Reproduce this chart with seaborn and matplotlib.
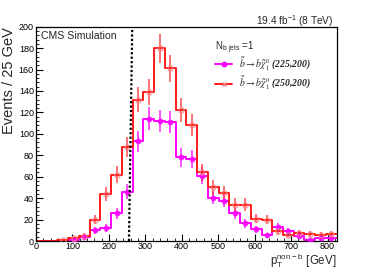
import numpy as np
import pandas as pd
import matplotlib
matplotlib.use("Agg")
import matplotlib.pyplot as plt
import seaborn as sns
from matplotlib.lines import Line2D
from matplotlib.ticker import MultipleLocator

# binning of the pT(non-b) histogram
x_min, x_max, n_bins = 0, 825, 28

# b~ -> b chi (250,200), red
red_counts = [0, 0, 1, 2.5, 5, 20, 44, 62, 88, 132, 139, 180, 161, 122,
              108, 64, 50, 44.5, 34, 34, 21, 20, 9, 6, 7.5, 6.5, 6, 7]
# b~ -> b chi (225,200), magenta
mag_counts = [0, 0, 0, 1, 4, 10, 12, 26, 46, 93, 114, 112, 111, 78,
              76.5, 61, 40.5, 37.5, 26, 16.5, 11, 5.5, 13.5, 9, 5, 1, 2.5, 3]

series_labels = ["(225,200)", "(250,200)"]
cut_low, cut_high = 255, 264   # dotted cut line (slightly slanted in the original)

sns.set_theme(style="ticks")
plt.rcParams['font.family'] = ['Liberation Sans', 'DejaVu Sans']

edges = np.linspace(x_min, x_max, n_bins + 1)
centers = 0.5 * (edges[:-1] + edges[1:])
red = np.array(red_counts, dtype=float)
mag = np.array(mag_counts, dtype=float)
df = pd.DataFrame({"pt": centers, "red": red, "mag": mag})

fig = plt.figure(figsize=(3.74, 2.68), dpi=100)
ax = fig.add_axes([0.0963, 0.1007, 0.804, 0.7997])

RED = "#ff1a1a"
MAG = "#ff00ff"

sns.histplot(data=df, x="pt", weights="mag", bins=n_bins, binrange=(x_min, x_max),
             element="step", fill=False, color=MAG, linewidth=1.4, ax=ax)
sns.histplot(data=df, x="pt", weights="red", bins=n_bins, binrange=(x_min, x_max),
             element="step", fill=False, color=RED, linewidth=1.4, ax=ax)

m = mag > 0
ax.errorbar(centers[m], mag[m], yerr=np.sqrt(mag[m]), fmt="o", ms=3.2,
            color=MAG, ecolor=MAG, elinewidth=1.2, capsize=0, alpha=0.8, zorder=4)
r = red > 0
ax.errorbar(centers[r], red[r], yerr=np.sqrt(red[r]), fmt="o", ms=3.6,
            mfc="none", mec="#ff8080", ecolor="#ff3030", elinewidth=1.2,
            capsize=0, alpha=0.8, zorder=4)

ax.plot([cut_low, cut_high], [0, 200], color="black", ls=(0, (1, 1)), lw=1.6, zorder=5)

ax.set_xlim(x_min, x_max)
ax.set_ylim(0, 200)
ax.grid(False)
for s in ax.spines.values():
    s.set_color("black")
    s.set_linewidth(0.9)

ax.xaxis.set_major_locator(MultipleLocator(100))
ax.xaxis.set_minor_locator(MultipleLocator(20))
ax.yaxis.set_major_locator(MultipleLocator(20))
ax.yaxis.set_minor_locator(MultipleLocator(4))
ax.tick_params(which="both", direction="in", colors="black", labelsize=6.5, pad=1.5)
ax.tick_params(axis="x", which="both", pad=1)
ax.tick_params(which="major", length=5, width=0.8)
ax.tick_params(which="minor", length=2.5, width=0.6)

ax.set_ylabel("Events / 25 GeV", fontsize=10.5, loc="top")
ax.yaxis.set_label_coords(-0.068, 1.0)
ax.set_xlabel(r"$\mathregular{p_{T}^{non-b}}$ [GeV]", fontsize=8.3, loc="right")
ax.xaxis.label.set_verticalalignment("top")
ax.xaxis.set_label_coords(1.0, -0.047)

ax.text(0.018, 0.955, "CMS Simulation", transform=ax.transAxes, fontsize=7.6,
        ha="left", va="center")
fig.text(333 / 374, 1 - 21 / 268, r"19.4 fb$^{\mathregular{-1}}$ (8 TeV)",
         fontsize=7.3, ha="right", va="center")
ax.text(0.596, 0.9, r"N$_{\mathregular{b\ jets}}$ =1", transform=ax.transAxes,
        fontsize=7, ha="left", va="center")

handles = [
    Line2D([], [], color=MAG, lw=1.4, marker="o", ms=3.2),
    Line2D([], [], color=RED, lw=1.4, marker="x", ms=3.2, mec="#ff8080"),
]
labels = [r"$\tilde{b}\rightarrow b\tilde{\chi}^{0}_{1}$ " + s for s in series_labels]
leg = ax.legend(handles, labels, loc="upper left", bbox_to_anchor=(0.595, 0.868),
                frameon=False, fontsize=7, handlelength=1.8, handletextpad=0.7,
                labelspacing=0.15, borderpad=0, borderaxespad=0)
for t in leg.get_texts():
    t.set_family(["Liberation Serif", "DejaVu Serif"])
    t.set_style("italic")
    t.set_weight("bold")
    t.set_math_fontfamily("stix")

fig.savefig("out.png", dpi=100)
